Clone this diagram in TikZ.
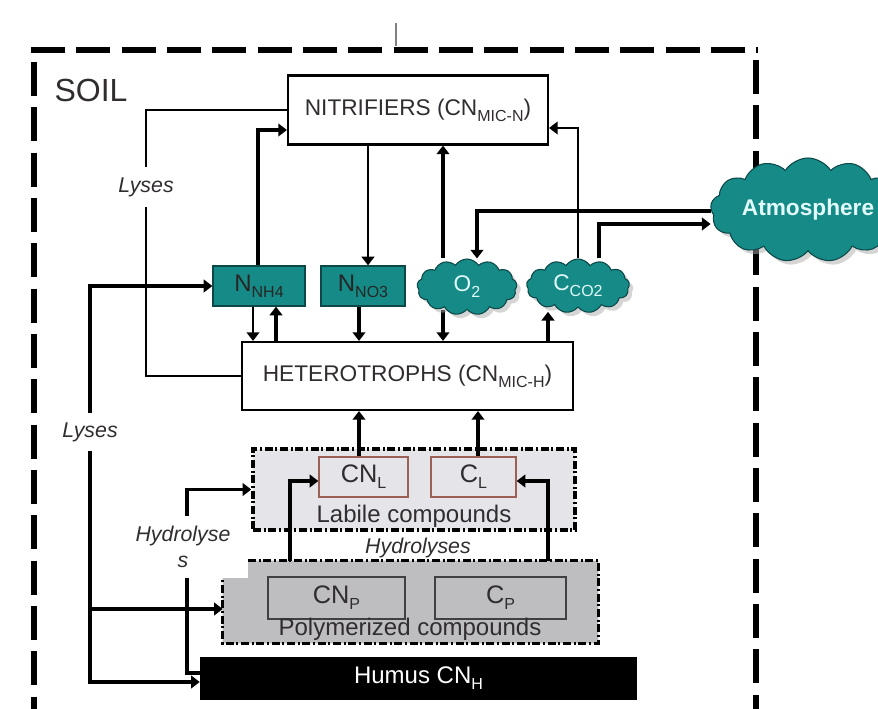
\documentclass[tikz,border=0pt]{standalone}
\usepackage{fontspec}
\setmainfont{Liberation Sans}
\usetikzlibrary{shapes.symbols,shadows,arrows.meta}
\pgfdeclarelayer{bg}
\pgfdeclarelayer{lines}
\pgfsetlayers{bg,lines,main}
\definecolor{tealfill}{RGB}{22,138,134}
\definecolor{tealdark}{RGB}{12,72,72}
\definecolor{txt}{RGB}{48,44,48}
\definecolor{labfill}{RGB}{229,229,233}
\definecolor{polyfill}{RGB}{190,190,192}
\definecolor{brownb}{RGB}{155,95,85}
\definecolor{cloudtxt}{RGB}{225,250,250}
\newcommand\lowsub[1]{\raisebox{-4.5pt}{\fontsize{12}{12}\selectfont #1}}
\tikzset{
  thinln/.style={line width=1.7pt},
  midln/.style={line width=2.4pt},
  thickln/.style={line width=3.2pt},
  tip/.style={-{Triangle[length=6.5pt,width=9.5pt]}},
  sz/.style 2 args={minimum width=#1*0.75pt, minimum height=#2*0.75pt},
  whitebox/.style={draw=black, line width=1.6pt, fill=white, text=txt, inner sep=0pt, font=\fontsize{17}{20}\selectfont},
  tealbox/.style={draw=tealdark, line width=1pt, fill=tealfill, text=black!85, inner sep=0pt, font=\fontsize{18}{20}\selectfont},
  cloudn/.style={cloud, cloud puffs=13, cloud puff arc=115, cloud ignores aspect, fill=tealfill, draw=tealdark, line width=0.8pt, inner sep=0pt, text=cloudtxt, font=\fontsize{17}{19}\selectfont, drop shadow={shadow xshift=3pt, shadow yshift=-3pt, fill=gray!65}},
  dashdot/.style={line width=2.6pt, dash pattern=on 6pt off 2pt on 1.5pt off 2pt},
  innerbox/.style={line width=1pt, inner sep=0pt, text=txt, font=\fontsize{19}{22}\selectfont},
  label/.style={text=txt, inner sep=0pt, font=\fontsize{16}{19}\selectfont\itshape, fill=white},
  soilborder/.style={line width=4.5pt, dash pattern=on 25.5pt off 8.5pt}
}
\begin{document}
\begin{tikzpicture}[x=0.75pt,y=-0.75pt]
\useasboundingbox (0,0) rectangle (878,709);
% soil border
\draw[soilborder] (31,50) -- (758,50);
\draw[soilborder] (34,62) -- (34,720);
\draw[soilborder] (756,60) -- (756,720);
\draw[gray, line width=1pt] (396,23) -- (396,46);
\node[text=txt, inner sep=0pt, font=\fontsize{24}{26}\selectfont] (soil) at (91,90) {SOIL};

% containers
\begin{pgfonlayer}{bg}
\node[dashdot, draw=black, fill=labfill, sz={322}{81}, inner sep=0pt] (labile) at (414,489.5) {};
\node[sz={375}{82}, inner sep=0pt] (poly) at (410.5,602) {};
\coordinate (notch) at (248,578);
\fill[polyfill] (poly.south west) |- (notch) |- (poly.north east) |- cycle;
\draw[dashdot] (notch |- poly.north) -| (poly.south east) -| (poly.west |- notch);
\end{pgfonlayer}

% nodes
\node[whitebox, sz={260}{69}] (nitr) at (418,110) {NITRIFIERS (CN\lowsub{MIC-N})};
\node[tealbox, sz={92}{40}] (nh4) at (259,286) {N\lowsub{NH4}};
\node[tealbox, sz={84}{40}] (no3) at (363,286) {N\lowsub{NO3}};
\node[cloudn, sz={100}{56}] (o2) at (467,287) {O\lowsub{2}};
\node[cloudn, sz={103}{54}] (co2) at (578,286) {C\lowsub{CO2}};
\node[cloudn, sz={195}{104}, font=\fontsize{17}{20}\selectfont\bfseries] (atm) at (808,210) {Atmosphere};
\node[whitebox, sz={331}{68}] (het) at (407.5,376) {HETEROTROPHS (CN\lowsub{MIC-H})};
\node[innerbox, draw=brownb, sz={89}{40}] (cnl) at (363.5,477) {CN\lowsub{L}};
\node[innerbox, draw=brownb, sz={85}{40}] (cl) at (473.5,477) {C\lowsub{L}};
\node[text=txt, inner sep=0pt, font=\fontsize{18}{20}\selectfont] (labtxt) at (414,516) {Labile compounds};
\node[innerbox, draw=black!75, line width=1.3pt, sz={137}{42}] (cnp) at (336.5,598) {CN\lowsub{P}};
\node[innerbox, draw=black!75, line width=1.3pt, sz={131}{42}] (cp) at (500.5,598) {C\lowsub{P}};
\node[text=txt, inner sep=0pt, font=\fontsize{18}{20}\selectfont] (polytxt) at (410,629) {Polymerized compounds};
\node[fill=black, text=white, inner sep=0pt, sz={437}{43}, font=\fontsize{18}{20}\selectfont] (humus) at (418.5,678.5) {Humus CN\lowsub{H}};
\node[label, sz={60}{40}] (lys1) at (146,187) {Lyses};
\node[label, sz={60}{37}] (lys2) at (90,432) {Lyses};
\node[label, sz={100}{62}, align=center, fill=none] (hyd1) at (183,547) {Hydrolyse\\s};
\node[label, fill=none] (hyd2) at (418,548) {Hydrolyses};

% connectors
\begin{pgfonlayer}{lines}
\draw[thinln] (nitr.west) -| (lys1.north);
\draw[thinln] (lys1.south) |- (het.west);
\draw[thickln, tip] (258,0 |- nh4.north) |- (nitr.west |- 0,130);
\draw[thinln, tip] (368,0 |- nitr.south) -- (368,0 |- no3.north);
\draw[thickln, tip] (443,0 |- o2.north) -- (443,0 |- nitr.south);
\draw[thickln, tip] (443,0 |- o2.south) -- (443,0 |- het.north);
\draw[thickln, tip] (atm.west |- 0,211) -| (477,0 |- o2.north);
\draw[thickln, tip] (599,0 |- co2.north) |- (atm.west |- 0,224);
\draw[thinln, tip] (co2.north) |- (nitr.east |- 0,128);
\draw[thickln, tip, shorten >=3pt] (548,0 |- het.north) -- (548,0 |- co2.south);
\draw[thinln, tip] (253,0 |- nh4.south) -- (253,0 |- het.north);
\draw[thickln, tip] (276,0 |- het.north) -- (276,0 |- nh4.south);
\draw[thickln, tip] (359,0 |- no3.south) -- (359,0 |- het.north);
\draw[thickln, tip] (359,0 |- cnl.north) -- (359,0 |- het.south);
\draw[thickln, tip] (478,0 |- cl.north) -- (478,0 |- het.south);
\draw[thickln, tip] (290,0 |- poly.north) |- (cnl.west |- 0,481);
\draw[thickln, tip] (548,0 |- poly.north) |- (cl.east |- 0,481);
\draw[thickln, tip] (lys2.north) |- (nh4.west);
\draw[midln, tip] (lys2.south) |- (humus.west |- 0,682);
\draw[midln, tip] (lys2.south |- 0,609) -- (poly.west |- 0,609);
\draw[midln] (humus.west |- 0,673) -| (187,0 |- hyd1.south);
\draw[midln, tip] (187,0 |- hyd1.north) |- (labile.west);
\end{pgfonlayer}
\end{tikzpicture}
\end{document}
